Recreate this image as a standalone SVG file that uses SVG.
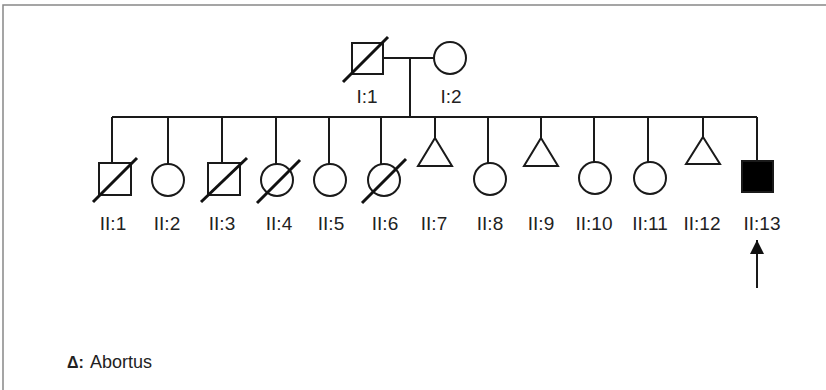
<svg xmlns="http://www.w3.org/2000/svg" width="826" height="390" viewBox="0 0 826 390">
<style>
.s{fill:none;stroke:#1a1a1a;stroke-width:2}
.f{fill:#000;stroke:#1a1a1a;stroke-width:2}
.d{stroke:#111;stroke-width:3;stroke-linecap:butt}
.ln{fill:none;stroke:#1a1a1a;stroke-width:2}
.t{font-family:"Liberation Sans",Arial,sans-serif;font-size:19px;fill:#222;text-anchor:middle}
.lg{font-family:"Liberation Sans",Arial,sans-serif;font-size:18px;fill:#222}
</style>
<defs>
<marker id="ah" viewBox="0 0 10 10" refX="10" refY="5" markerWidth="15" markerHeight="14" markerUnits="userSpaceOnUse" orient="auto">
<path d="M0,0 L10,5 L0,10 z" fill="#111"/>
</marker>
</defs>
<rect x="0" y="0" width="826" height="390" fill="#fff"/>
<path d="M3,390 V5 H826" fill="none" stroke="#888" stroke-width="1.5"/>
<g id="connectors">
<path class="ln" d="M383,58 H434 M410,58 V117 M112,117 H757"/>
<path class="ln" d="M112,117 V163 M168,117 V164 M222,117 V163 M276,117 V164 M329,117 V164 M381,117 V164 M435,117 V138 M488,117 V163 M541,117 V138 M594,117 V162 M648,117 V162 M703,117 V137 M757,117 V161"/>
</g>
<g id="I1"><rect class="s" x="352" y="43" width="31" height="31"/><line class="d" x1="343" y1="82" x2="388" y2="37"/><text class="t" x="367" y="103">I:1</text></g>
<g id="I2"><circle class="s" cx="450" cy="58" r="16"/><text class="t" x="451" y="103">I:2</text></g>
<g id="II1"><rect class="s" x="99" y="163" width="32" height="32"/><line class="d" x1="93" y1="202" x2="137" y2="158"/><text class="t" x="113" y="230">II:1</text></g>
<g id="II2"><circle class="s" cx="168" cy="180" r="16"/><text class="t" x="167" y="230">II:2</text></g>
<g id="II3"><rect class="s" x="208" y="163" width="32" height="32"/><line class="d" x1="201" y1="202" x2="247" y2="158"/><text class="t" x="222" y="230">II:3</text></g>
<g id="II4"><circle class="s" cx="277" cy="180" r="16"/><line class="d" x1="257" y1="203" x2="300" y2="160"/><text class="t" x="279" y="230">II:4</text></g>
<g id="II5"><circle class="s" cx="330" cy="180" r="16"/><text class="t" x="331" y="230">II:5</text></g>
<g id="II6"><circle class="s" cx="384" cy="180" r="16"/><line class="d" x1="362" y1="203" x2="406" y2="159"/><text class="t" x="385" y="230">II:6</text></g>
<g id="II7"><path class="s" d="M435,138 L452,166 L418,166 Z"/><text class="t" x="434" y="230">II:7</text></g>
<g id="II8"><circle class="s" cx="490" cy="179" r="16"/><text class="t" x="490" y="230">II:8</text></g>
<g id="II9"><path class="s" d="M541,138 L558,166 L524,166 Z"/><text class="t" x="541" y="230">II:9</text></g>
<g id="II10"><circle class="s" cx="595" cy="178" r="16"/><text class="t" x="594" y="230">II:10</text></g>
<g id="II11"><circle class="s" cx="650" cy="178" r="16"/><text class="t" x="650" y="230">II:11</text></g>
<g id="II12"><path class="s" d="M703,137 L720,164 L686,164 Z"/><text class="t" x="702" y="230">II:12</text></g>
<g id="II13"><rect class="f" x="742" y="161" width="31" height="31"/><text class="t" x="762" y="230">II:13</text></g>
<g id="proband"><line class="ln" x1="757" y1="288" x2="757" y2="240" marker-end="url(#ah)"/></g>
<g id="legend"><text class="lg" x="67" y="368" style="font-size:16px;font-weight:bold">Δ:</text><text class="lg" x="90" y="368">Abortus</text></g>
</svg>
